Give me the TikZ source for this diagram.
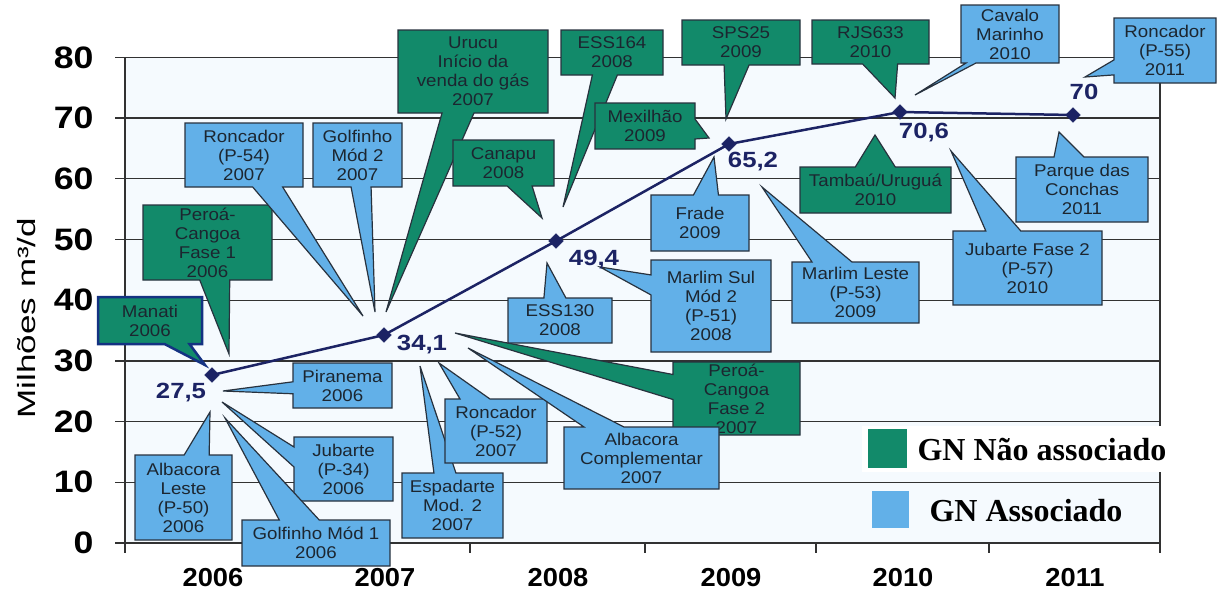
\documentclass[tikz,border=0pt]{standalone}
\usepackage{fontspec}
\usetikzlibrary{shapes.callouts,shapes.geometric}
\setmainfont{Liberation Sans}
\newfontfamily\boxfont[FakeStretch=1.1]{Liberation Sans}
\newfontfamily\numfont[FakeStretch=1.15]{Liberation Sans}
\newfontfamily\valfont[FakeStretch=1.17]{Liberation Sans}
\newfontfamily\xfont[FakeStretch=1.05]{Liberation Sans}
\newfontfamily\titfont[FakeStretch=1.4]{Liberation Sans}
\newfontfamily\legfont{Liberation Serif}
\definecolor{gnna}{RGB}{18,138,106}
\definecolor{gna}{RGB}{98,176,232}
\definecolor{boxline}{RGB}{40,50,62}
\definecolor{boxtext}{RGB}{28,38,48}
\definecolor{navy}{RGB}{28,35,100}
\definecolor{gridc}{RGB}{50,50,50}
\definecolor{plotbg}{RGB}{245,250,254}
\definecolor{manatiline}{RGB}{20,50,130}
\tikzset{
  cbox/.style={rectangle callout, draw=boxline, line width=1.2pt, inner sep=0pt,
    align=center, text=boxtext, font=\boxfont\fontsize{17}{19}\selectfont},
  gbox/.style={cbox, fill=gnna},
  bbox/.style={cbox, fill=gna},
  gridl/.style={draw=gridc, line width=1.3pt},
  ylab/.style={anchor=east, font=\numfont\bfseries\fontsize{31}{31}\selectfont},
  xlab/.style={font=\xfont\bfseries\fontsize{26}{26}\selectfont},
  vlab/.style={text=navy, font=\valfont\bfseries\fontsize{22}{22}\selectfont},
  dataline/.style={draw=navy, line width=2.5pt},
  marker/.style={diamond, fill=navy, draw=navy, minimum size=15pt, inner sep=0pt},
  legtext/.style={anchor=west, font=\legfont\bfseries\fontsize{32}{32}\selectfont}
}
\begin{document}
\begin{tikzpicture}[x=1pt,y=-1pt]
\useasboundingbox (0,0) rectangle (1217,592);
\fill[white] (0,0) rectangle (1217,592);
\fill[plotbg] (125,57) rectangle (1160,543);
% grid
\foreach \v in {0,10,...,80}
  \draw[gridl] (115,{543-6.07*\v}) -- (1160,{543-6.07*\v});
\draw[gridl] (125,57) -- (125,553);
\draw[gridl] (1160,57) -- (1160,553);
\foreach \x in {298,470,645,816,989}
  \draw[gridl] (\x,543) -- (\x,553);
% y labels
\foreach \v in {0,10,...,80}
  \node[ylab] (y\v) at (97,{543-6.07*\v}) {\v};
\node[rotate=90, font=\titfont\fontsize{25}{25}\selectfont] (ytitle) at (27,318) {Milhões m³/d};
% x labels
\node[xlab] (x2006) at (213,578) {2006};
\node[xlab] (x2007) at (385,578) {2007};
\node[xlab] (x2008) at (558,578) {2008};
\node[xlab] (x2009) at (731,578) {2009};
\node[xlab] (x2010) at (903,578) {2010};
\node[xlab] (x2011) at (1075,578) {2011};
% legend
\fill[white] (862,426) rectangle (1178,472);
\fill[gnna] (868,429) rectangle (907,468);
\node[legtext] (leg1) at (914,449) {GN Não associado};
\fill[gna] (872,491) rectangle (909,528);
\node[legtext] (leg2) at (926,511) {GN Associado};
% tips
\coordinate (t1) at (205,365);
\coordinate (t2) at (229,354);
\coordinate (t3) at (386,312);
\coordinate (t4) at (563,207);
\coordinate (t5) at (542,218);
\coordinate (t6) at (726,119);
\coordinate (t7) at (709,138);
\coordinate (t8) at (895,98);
\coordinate (t9) at (875,135);
\coordinate (t10) at (455,333);
\coordinate (t11) at (363,316);
\coordinate (t12) at (375,312);
\coordinate (t13) at (223,391);
\coordinate (t14) at (210,412);
\coordinate (t15) at (222,402);
\coordinate (t16) at (225,418);
\coordinate (t17) at (420,366);
\coordinate (t18) at (439,363);
\coordinate (t19) at (468,348);
\coordinate (t20) at (547,263);
\coordinate (t21) at (600,267);
\coordinate (t22) at (714,157);
\coordinate (t23) at (762,187);
\coordinate (t24) at (915,95);
\coordinate (t25) at (1085,77);
\coordinate (t26) at (1059,132);
\coordinate (t27) at (951,151);
% green callouts
\node[gbox, draw=manatiline, line width=2.5pt, minimum width=104pt, minimum height=47pt,
  callout absolute pointer=(t1), callout pointer width=25pt] (manati) at (150,320.5) {Manati\\2006};
\node[gbox, minimum width=129pt, minimum height=75pt,
  callout absolute pointer=(t2), callout pointer width=30pt] (peroa1) at (207.5,242.5) {Peroá-\\Cangoa\\Fase 1\\2006};
\node[gbox, minimum width=150pt, minimum height=83pt,
  callout absolute pointer=(t3), callout pointer width=32pt] (urucu) at (473,71.5) {Urucu\\Início da\\venda do gás\\2007};
\node[gbox, minimum width=102pt, minimum height=45pt,
  callout absolute pointer=(t4), callout pointer width=25pt] (ess164) at (612,52.5) {ESS164\\2008};
\node[gbox, minimum width=101pt, minimum height=46pt,
  callout absolute pointer=(t5), callout pointer width=25pt] (canapu) at (503.5,163) {Canapu\\2008};
\node[gbox, minimum width=118pt, minimum height=45pt,
  callout absolute pointer=(t6), callout pointer width=25pt] (sps25) at (741,42.5) {SPS25\\2009};
\node[gbox, minimum width=100pt, minimum height=46pt,
  callout absolute pointer=(t7), callout pointer width=20pt] (mexilhao) at (645,126) {Mexilhão\\2009};
\node[gbox, minimum width=117pt, minimum height=44pt,
  callout absolute pointer=(t8), callout pointer width=35pt] (rjs633) at (870.5,42) {RJS633\\2010};
\node[gbox, minimum width=151pt, minimum height=46pt,
  callout absolute pointer=(t9), callout pointer width=40pt] (tambau) at (875.5,190) {Tambaú/Uruguá\\2010};
\node[gbox, minimum width=127pt, minimum height=73pt,
  callout absolute pointer=(t10), callout pointer width=25pt] (peroa2) at (736.5,398.5) {Peroá-\\Cangoa\\Fase 2\\2007};
% blue callouts
\node[bbox, minimum width=118pt, minimum height=64pt,
  callout absolute pointer=(t11), callout pointer width=30pt] (ronc54) at (244,155) {Roncador\\(P-54)\\2007};
\node[bbox, minimum width=89pt, minimum height=64pt,
  callout absolute pointer=(t12), callout pointer width=20pt] (golf2) at (357.5,155) {Golfinho\\Mód 2\\2007};
\node[bbox, minimum width=99pt, minimum height=45pt,
  callout absolute pointer=(t13), callout pointer width=12pt] (piranema) at (342.5,385.5) {Piranema\\2006};
\node[bbox, minimum width=97pt, minimum height=85pt,
  callout absolute pointer=(t14), callout pointer width=25pt] (albleste) at (183.5,497.5) {Albacora\\Leste\\(P-50)\\2006};
\node[bbox, minimum width=99pt, minimum height=64pt,
  callout absolute pointer=(t15), callout pointer width=20pt] (jub34) at (343.5,469) {Jubarte\\(P-34)\\2006};
\node[bbox, minimum width=148pt, minimum height=46pt,
  callout absolute pointer=(t16), callout pointer width=40pt] (golf1) at (316,543) {Golfinho Mód 1\\2006};
\node[bbox, minimum width=101pt, minimum height=65pt,
  callout absolute pointer=(t17), callout pointer width=22pt] (espad) at (452.5,505.5) {Espadarte\\Mod. 2\\2007};
\node[bbox, minimum width=102pt, minimum height=64pt,
  callout absolute pointer=(t18), callout pointer width=30pt] (ronc52) at (496,431) {Roncador\\(P-52)\\2007};
\node[bbox, minimum width=155pt, minimum height=62pt,
  callout absolute pointer=(t19), callout pointer width=40pt] (albcomp) at (641.5,458) {Albacora\\Complementar\\2007};
\node[bbox, minimum width=104pt, minimum height=45pt,
  callout absolute pointer=(t20), callout pointer width=22pt] (ess130) at (560,320.5) {ESS130\\2008};
\node[bbox, minimum width=120pt, minimum height=92pt,
  callout absolute pointer=(t21), callout pointer width=20pt] (marsul) at (711,306) {Marlim Sul\\Mód 2\\(P-51)\\2008};
\node[bbox, minimum width=98pt, minimum height=56pt,
  callout absolute pointer=(t22), callout pointer width=25pt] (frade) at (700,223) {Frade\\2009};
\node[bbox, minimum width=127pt, minimum height=61pt,
  callout absolute pointer=(t23), callout pointer width=40pt] (marleste) at (855.5,292.5) {Marlim Leste\\(P-53)\\2009};
\node[bbox, minimum width=98pt, minimum height=58pt,
  callout absolute pointer=(t24), callout pointer width=10pt] (cavalo) at (1010,34) {Cavalo\\Marinho\\2010};
\node[bbox, minimum width=102pt, minimum height=65pt,
  callout absolute pointer=(t25), callout pointer width=15pt] (ronc55) at (1165,50.5) {Roncador\\(P-55)\\2011};
\node[bbox, minimum width=132pt, minimum height=65pt,
  callout absolute pointer=(t26), callout pointer width=30pt] (parque) at (1082,189.5) {Parque das\\Conchas\\2011};
\node[bbox, minimum width=149pt, minimum height=74pt,
  callout absolute pointer=(t27), callout pointer width=35pt] (jubf2) at (1027.5,268) {Jubarte Fase 2\\(P-57)\\2010};
% data series
\coordinate (p1) at (212,375);
\coordinate (p2) at (384,335);
\coordinate (p3) at (556,241);
\coordinate (p4) at (729,144);
\coordinate (p5) at (900,112);
\coordinate (p6) at (1073,115);
\draw[dataline] (p1) -- (p2) -- (p3) -- (p4) -- (p5) -- (p6);
\foreach \i in {1,...,6} \node[marker] (m\i) at (p\i) {};
% values
\node[vlab] (v1) at (181,393) {27,5};
\node[vlab] (v2) at (422,345) {34,1};
\node[vlab] (v3) at (594,260) {49,4};
\node[vlab] (v4) at (753,162) {65,2};
\node[vlab] (v5) at (924,133) {70,6};
\node[vlab] (v6) at (1084,92) {70};
\end{tikzpicture}
\end{document}
